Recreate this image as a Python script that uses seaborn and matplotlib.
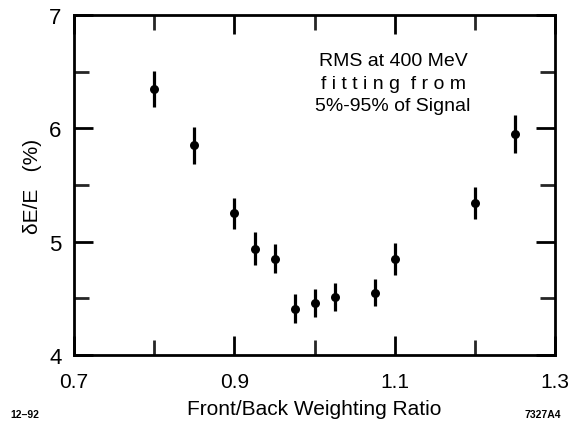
import matplotlib
matplotlib.use("Agg")
import matplotlib.pyplot as plt
import seaborn as sns
import pandas as pd
from matplotlib.ticker import FixedLocator

ratio = [0.80, 0.85, 0.90, 0.925, 0.95, 0.975, 1.00, 1.025, 1.075, 1.10, 1.20, 1.25]
resolution = [6.35, 5.85, 5.25, 4.94, 4.85, 4.41, 4.46, 4.51, 4.55, 4.85, 5.34, 5.95]
error = [0.16, 0.16, 0.14, 0.145, 0.13, 0.13, 0.12, 0.125, 0.12, 0.14, 0.14, 0.17]
xticks = [0.7, 0.9, 1.1, 1.3]
xtick_labels = ["0.7", "0.9", "1.1", "1.3"]
yticks = [4, 5, 6, 7]

df = pd.DataFrame({"ratio": ratio, "res": resolution, "err": error})

sns.set_theme(style="ticks")
plt.rcParams["font.family"] = ["Liberation Sans", "DejaVu Sans"]
plt.rcParams["text.color"] = "black"
plt.rcParams["axes.labelcolor"] = "black"

fig = plt.figure(figsize=(5.7, 4.27), dpi=100)
ax = fig.add_axes([0.130, 0.166, 0.844, 0.7965])

ax.errorbar(df["ratio"], df["res"], yerr=df["err"], fmt="none", ecolor="black",
            elinewidth=2.3, capsize=0, zorder=2)
sns.scatterplot(data=df, x="ratio", y="res", ax=ax, color="black", s=42,
                edgecolor="black", linewidth=0, zorder=3, legend=False)

ax.set_xlim(0.7, 1.3)
ax.set_ylim(4, 7)
ax.xaxis.set_major_locator(FixedLocator(xticks))
ax.set_xticklabels(xtick_labels)
ax.xaxis.set_minor_locator(FixedLocator([0.8, 1.0, 1.2]))
ax.yaxis.set_major_locator(FixedLocator(yticks))
ax.yaxis.set_minor_locator(FixedLocator([4.5, 5.5, 6.5]))

for s in ax.spines.values():
    s.set_linewidth(2.0)
    s.set_color("black")
    s.set_visible(True)

ax.tick_params(which="major", direction="in", length=14, width=2.0, top=True, right=True,
               labelsize=16, colors="black")
ax.tick_params(axis="y", which="major", pad=9)
ax.tick_params(axis="x", which="major", pad=12, labelsize=15)
ax.tick_params(which="minor", direction="in", length=11, width=2.0, top=True, right=True)

ax.set_xlabel("Front/Back Weighting Ratio", fontsize=15, labelpad=6, color="black")
ax.set_ylabel("δE/E   (%)", fontsize=15, labelpad=5, color="black")

ax.text(0.663, 0.80, "RMS at 400 MeV\nf i t t i n g  f r o m\n5%-95% of Signal", transform=ax.transAxes,
        ha="center", va="center", fontsize=14, linespacing=1.45, color="black")

fig.text(0.018, 0.02, "12–92", fontsize=7.5, fontweight="bold", color="black")
fig.text(0.92, 0.02, "7327A4", fontsize=7.5, fontweight="bold", color="black")

fig.savefig("out.png", dpi=100)
